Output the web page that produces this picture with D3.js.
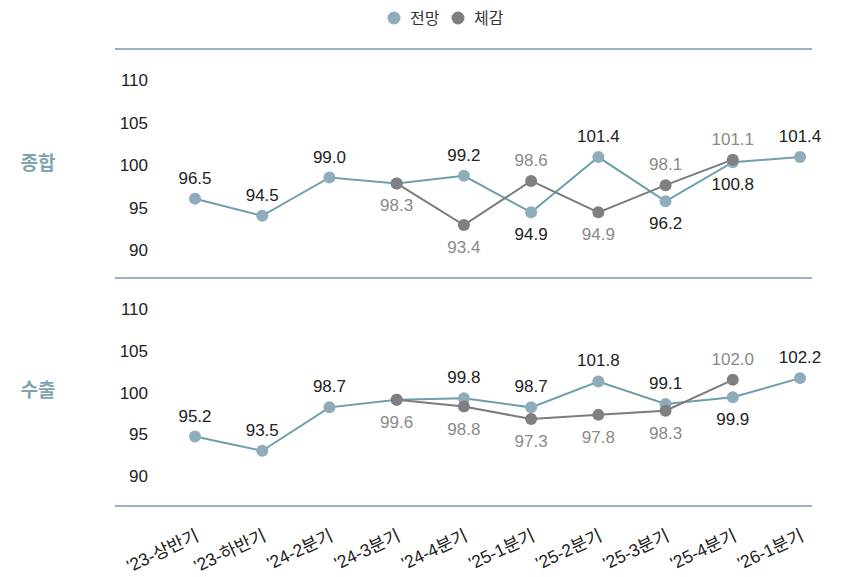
<!DOCTYPE html>
<html>
<head>
<meta charset="utf-8">
<script src="https://cdn.jsdelivr.net/npm/d3@7"></script>
<style>
  body { margin: 0; background: #fff; }
  svg text { font-family: "Liberation Sans", "Noto Sans CJK KR", sans-serif; }
</style>
</head>
<body>
<div id="chart"></div>
<script>
// categories on the x axis
const periods = ["'23-상반기", "'23-하반기", "'24-2분기", "'24-3분기", "'24-4분기", "'25-1분기", "'25-2분기", "'25-3분기", "'25-4분기", "'26-1분기"];
const yTicks = [90, 95, 100, 105, 110];

// 종합
const totalOutlook = [96.5, 94.5, 99.0, 98.3, 99.2, 94.9, 101.4, 96.2, 100.8, 101.4];
const totalActual  = [null, null, null, 98.3, 93.4, 98.6, 94.9, 98.1, 101.1, null];
// 수출
const exportOutlook = [95.2, 93.5, 98.7, 99.6, 99.8, 98.7, 101.8, 99.1, 99.9, 102.2];
const exportActual  = [null, null, null, 99.6, 98.8, 97.3, 97.8, 98.3, 102.0, null];

const W = 844, H = 577;
const BLUE_LINE = "#6e9eac", BLUE_DOT = "#8eacba";
const GRAY_LINE = "#7c7c7e", GRAY_DOT = "#7f7f83";
const RULE = "#97b3bf";

const svg = d3.select("#chart").append("svg")
    .attr("width", W)
    .attr("height", H);

const x = d3.scalePoint()
    .domain(periods)
    .range([195, 800]);

// legend
const legend = svg.append("g");
[["전망", BLUE_DOT, 394], ["체감", GRAY_DOT, 458]].forEach(function(l){
    legend.append("circle").attr("cx", l[2]).attr("cy", 18).attr("r", 6.5).attr("fill", l[1]);
    legend.append("text").attr("x", l[2] + 16).attr("y", 24)
        .style("font-size", "16px").attr("fill", "#333").text(l[0]);
});

// horizontal rules
[49, 278, 506].forEach(function(yy){
    svg.append("line")
        .attr("x1", 115).attr("x2", 812)
        .attr("y1", yy).attr("y2", yy)
        .attr("stroke", RULE).attr("stroke-width", 2);
});

function drawPanel(title, outlook, actual, yRange, titleY){
    const y = d3.scaleLinear().domain([90, 110]).range(yRange);
    const g = svg.append("g");

    g.append("text")
        .attr("x", 38).attr("y", titleY)
        .attr("text-anchor", "middle")
        .attr("dy", "0.35em")
        .style("font-size", "19px").style("font-weight", "bold")
        .attr("fill", "#7ea4b2")
        .text(title);

    // y axis, labels only
    const axis = g.append("g")
        .attr("transform", "translate(148,0)")
        .call(d3.axisLeft(y).tickValues(yTicks).tickSize(0).tickPadding(0));
    axis.select(".domain").remove();
    axis.selectAll("text")
        .attr("dy", "0.1em")
        .style("font-size", "17px")
        .attr("fill", "#222")
        .style("font-family", "\"Liberation Sans\", sans-serif");

    const outPts = outlook.map((v, i) => ({v: v, i: i}));
    const actPts = actual.map((v, i) => ({v: v, i: i})).filter(d => d.v !== null);

    const line = d3.line()
        .x(d => x(periods[d.i]))
        .y(d => y(d.v));

    g.append("path").datum(outPts)
        .attr("d", line).attr("fill", "none")
        .attr("stroke", BLUE_LINE).attr("stroke-width", 2);
    g.append("path").datum(actPts)
        .attr("d", line).attr("fill", "none")
        .attr("stroke", GRAY_LINE).attr("stroke-width", 2);

    g.selectAll(".dot-o").data(outPts).enter().append("circle")
        .attr("cx", d => x(periods[d.i])).attr("cy", d => y(d.v))
        .attr("r", 6).attr("fill", BLUE_DOT);
    g.selectAll(".dot-a").data(actPts).enter().append("circle")
        .attr("cx", d => x(periods[d.i])).attr("cy", d => y(d.v))
        .attr("r", 6).attr("fill", GRAY_DOT);

    // value labels: the higher of the two goes above, the lower below
    outPts.forEach(function(d){
        const a = actual[d.i];
        if (a !== null && a === d.v) return;
        const above = (a === null) || d.v > a;
        g.append("text")
            .attr("x", x(periods[d.i])).attr("y", y(d.v) + (above ? -15 : 28))
            .attr("text-anchor", "middle")
            .style("font-size", "17px").attr("fill", "#222")
            .text(d.v.toFixed(1));
    });
    actPts.forEach(function(d){
        const above = d.v > outlook[d.i];
        g.append("text")
            .attr("x", x(periods[d.i])).attr("y", y(d.v) + (above ? -15 : 28))
            .attr("text-anchor", "middle")
            .style("font-size", "17px").attr("fill", "#8a8a8a")
            .text(d.v.toFixed(1));
    });
}

drawPanel("종합", totalOutlook, totalActual, [254, 84], 163);
drawPanel("수출", exportOutlook, exportActual, [480, 313], 390);

// x axis labels
svg.append("g").selectAll("text").data(periods).enter().append("text")
    .attr("transform", d => `translate(${x(d) + 5}, 540) rotate(-25)`)
    .attr("text-anchor", "end")
    .style("font-size", "17.5px")
    .attr("fill", "#222")
    .text(d => d);
</script>
</body>
</html>
